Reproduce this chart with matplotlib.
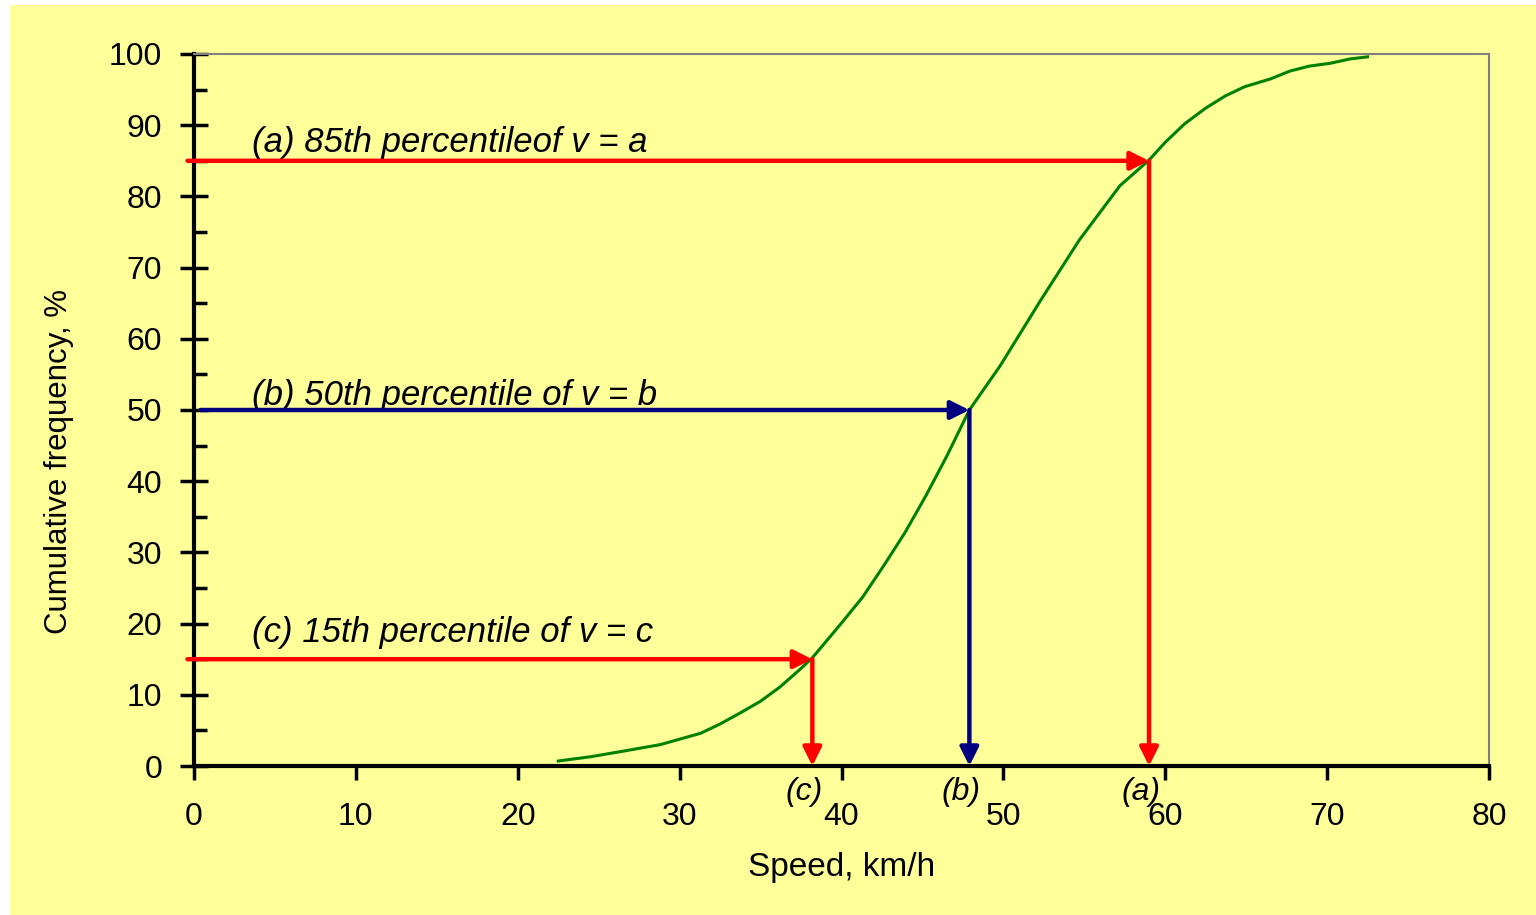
import matplotlib.pyplot as plt
from matplotlib.patches import Rectangle

plt.rcParams['font.family'] = ['Liberation Sans', 'DejaVu Sans']

# cumulative speed distribution
speed = [22.5, 24.5, 26.3, 28.8, 31.3, 32.5, 33.7, 35.0, 36.2, 37.4, 38.2,
         39.9, 41.3, 42.6, 43.9, 45.2, 46.5, 47.9, 49.8, 52.3, 54.7, 57.2,
         59.0, 60.0, 61.2, 62.5, 63.7, 64.9, 66.5, 67.7, 68.9, 70.2, 71.4, 72.5]
cum_freq = [0.7, 1.3, 2.0, 3.0, 4.6, 5.9, 7.4, 9.1, 11.1, 13.5, 15.2,
            19.8, 23.7, 28.1, 32.7, 37.9, 43.5, 50.0, 56.2, 65.4, 73.9, 81.5,
            85.1, 87.6, 90.2, 92.4, 94.1, 95.4, 96.5, 97.6, 98.3, 98.7, 99.3, 99.6]

# percentiles
pct_labels = ['(a)', '(b)', '(c)']
pct_values = [85, 50, 15]
pct_speeds = [59.0, 47.9, 38.2]
pct_colors = ['#ff0000', '#000080', '#ff0000']
pct_texts = ['(a) 85th percentileof v = a',
             '(b) 50th percentile of v = b',
             '(c) 15th percentile of v = c']
text_y = [87.6, 52.0, 18.8]
arrow_starts = [-0.4, 0.4, -0.4]

bg = '#ffff99'
fig = plt.figure(figsize=(15.36, 9.15), dpi=100)
fig.patches.append(Rectangle((10 / 1536, 0), 1, 1 - 5 / 915, transform=fig.transFigure,
                             facecolor=bg, edgecolor='none', zorder=-1))

ax = fig.add_axes([194 / 1536, 149 / 915, 1295 / 1536, 712 / 915])
ax.set_facecolor(bg)
ax.set_xlim(0, 80)
ax.set_ylim(0, 100)

ax.plot(speed, cum_freq, color='#008000', lw=2.2, zorder=3)

for lab, p, s, c, t, ty, x0 in zip(pct_labels, pct_values, pct_speeds, pct_colors,
                                   pct_texts, text_y, arrow_starts):
    arr = dict(arrowstyle='-|>', color=c, lw=3.2, mutation_scale=28, shrinkA=0, shrinkB=0)
    ax.annotate('', xy=(s, p), xytext=(x0, p), arrowprops=arr, annotation_clip=False, zorder=4)
    ax.annotate('', xy=(s, 0), xytext=(s, p), arrowprops=arr, zorder=4)
    ax.text(3.6, ty, t, fontsize=25, style='italic', va='center', ha='left')
    ax.text(s - 0.5, -1.6, lab, fontsize=23, style='italic', va='top', ha='center')

ax.set_xticks(range(0, 81, 10))
ax.set_yticks(range(0, 101, 10))
ax.set_yticks(range(5, 100, 10), minor=True)
ax.tick_params(axis='x', direction='out', length=10, width=2.5, labelsize=23, pad=16)
ax.tick_params(axis='y', which='major', direction='inout', length=20, width=2.5,
               labelsize=23, pad=13)
ax.tick_params(axis='y', which='minor', direction='in', length=9, width=2.5)

for side in ['left', 'bottom']:
    ax.spines[side].set_linewidth(3)
    ax.spines[side].set_color('black')
for side in ['top', 'right']:
    ax.spines[side].set_linewidth(1.5)
    ax.spines[side].set_color('#808080')

ax.set_xlabel('Speed, km/h', fontsize=24, labelpad=14)
ax.set_ylabel('Cumulative frequency, %', fontsize=22.5)
ax.yaxis.set_label_coords(-0.093, 0.427)

fig.savefig('out.png', dpi=100)
